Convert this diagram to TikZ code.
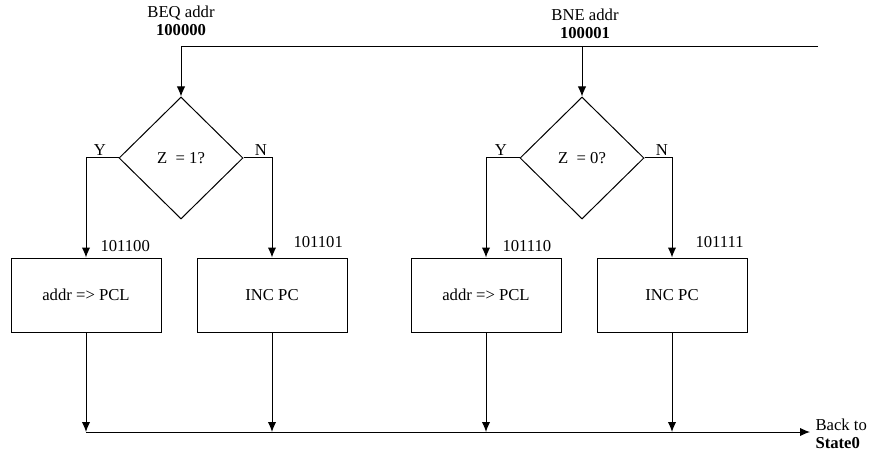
\documentclass[tikz,border=0pt]{standalone}
\usepackage{fontspec}
\setmainfont{Liberation Serif}
\usepackage{tikz}
\usetikzlibrary{arrows.meta,shapes.geometric,positioning,calc}

\tikzset{
    test/.style={draw, diamond, inner sep=0pt, minimum width=74.4pt, minimum height=73.2pt},
    stepbox/.style={draw, rectangle, minimum width=90pt, minimum height=44.4pt},
    flow/.style={-{Latex[length=6pt,width=5pt]}},
    code/.style={anchor=west, inner sep=0pt}
}

\begin{document}
\begin{tikzpicture}[x=0.6pt,y=-0.6pt,line width=0.6pt]
    \useasboundingbox (0,0) rectangle (873,456);
    % decisions
    \node[test] (eq) at (181,158) {Z\ \ = 1?};
    \node[test] (ne) at (582,158) {Z\ \ = 0?};
    % states
    \node[stepbox] (eqy) at (86,295)  {addr => PCL};
    \node[stepbox] (eqn) at (272,295) {INC PC};
    \node[stepbox] (ney) at (486,295) {addr => PCL};
    \node[stepbox] (nen) at (672,295) {INC PC};
    % entry
    \coordinate (in) at (818,47);
    \coordinate (bus) at (86,432);
    \coordinate (out) at (810,432);
    \draw[flow] (in) -- (eq.north |- in) -- (eq.north);
    \draw[flow] (ne.north |- in) -- (ne.north);
    \node[align=center, inner sep=0pt] (beq) at (181,21) {BEQ addr\\[-1pt]\textbf{100000}};
    \node[align=center, inner sep=0pt] (bne) at (585,24) {BNE addr\\[-1pt]\textbf{100001}};
    % branches
    \draw[flow] (eq.west) -| (eqy.north);
    \draw[flow] (eq.east) -| (eqn.north);
    \draw[flow] (ne.west) -| (ney.north);
    \draw[flow] (ne.east) -| (nen.north);
    \node (y1) at (100,150) {Y};
    \node (n1) at (261,150) {N};
    \node (y2) at (501,150) {Y};
    \node (n2) at (662,150) {N};
    \node[code] (c1) at (100,246) {101100};
    \node[code] (c2) at (293,242) {101101};
    \node[code] (c3) at (502,246) {101110};
    \node[code] (c4) at (695,242) {101111};
    % back
    \foreach \s in {eqy,eqn,ney,nen}
        \draw[flow] (\s.south) -- (\s.south |- bus);
    \draw[flow] (bus) -- (out);
    \node[anchor=west, align=left, inner sep=0pt] (back) at (815,434) {Back to\\[-1pt]\textbf{State0}};
\end{tikzpicture}
\end{document}
